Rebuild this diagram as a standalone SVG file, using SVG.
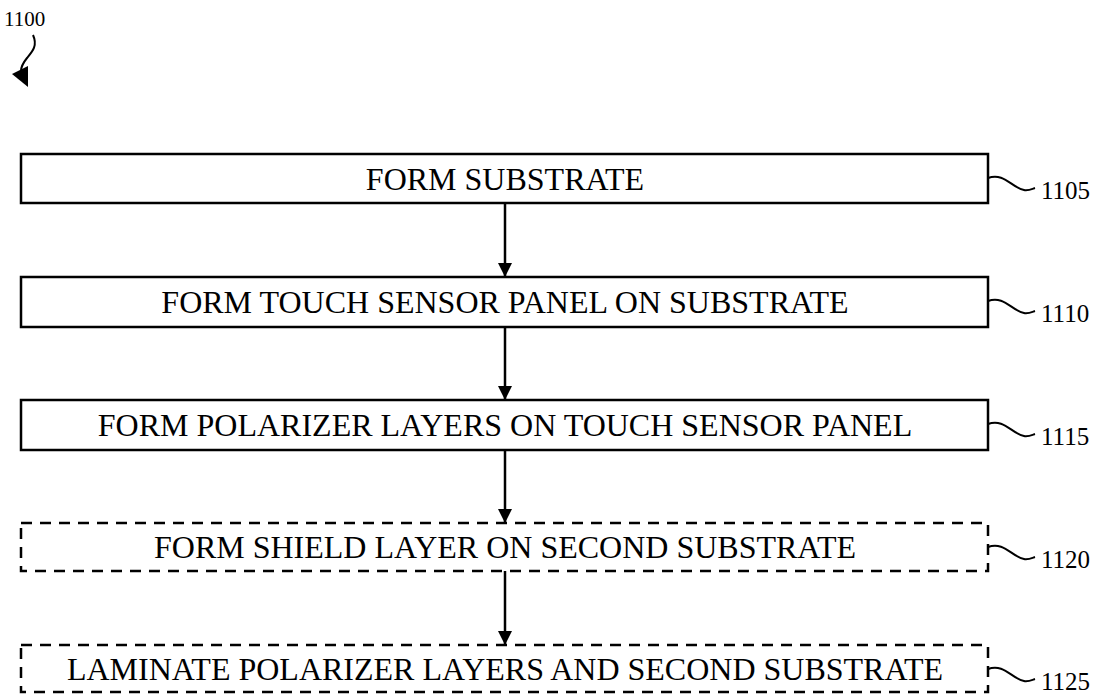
<svg xmlns="http://www.w3.org/2000/svg" width="1100" height="695" viewBox="0 0 1100 695">
<style>
.box{fill:#fff;stroke:#000;stroke-width:2.5}
.dash{stroke-dasharray:11 8}
.t{font-family:"Liberation Serif","Times New Roman",serif;font-size:32px;fill:#000;text-anchor:middle}
.ref{font-family:"Liberation Serif","Times New Roman",serif;font-size:25px;fill:#000}
.lead{fill:none;stroke:#000;stroke-width:2}
.conn{stroke:#000;stroke-width:2.5;fill:none}
</style>
<defs>
<marker id="ah2" markerWidth="14" markerHeight="14" refX="14" refY="7" orient="auto" markerUnits="userSpaceOnUse">
<path d="M0,0 L14,7 L0,14 Z" fill="#000"/>
</marker>
</defs>
<g id="fig-label">
<text class="ref" x="4" y="26" style="font-size:21px">1100</text>
<path class="lead" d="M33,35 C38,46 32,52 27,58 C23,63 21,66 21,71"/>
<polygon points="12,74 28,66 28,87" fill="#000"/>
</g>
<g id="connectors">
<line class="conn" x1="505" y1="203" x2="505" y2="277" marker-end="url(#ah2)"/>
<line class="conn" x1="505" y1="327" x2="505" y2="400" marker-end="url(#ah2)"/>
<line class="conn" x1="505" y1="450" x2="505" y2="523" marker-end="url(#ah2)"/>
<line class="conn" x1="505" y1="571" x2="505" y2="645" marker-end="url(#ah2)"/>
</g>
<g id="n1105">
<rect class="box" x="21" y="154" width="967" height="49"/>
<text class="t" x="505" y="190">FORM SUBSTRATE</text>
<path class="lead" d="M988,178 C1004,172 1012,188 1024,190 C1028,191 1032,189 1035,188"/>
<text class="ref" x="1041" y="199">1105</text>
</g>
<g id="n1110">
<rect class="box" x="21" y="277" width="967" height="50"/>
<text class="t" x="505" y="313">FORM TOUCH SENSOR PANEL ON SUBSTRATE</text>
<path class="lead" d="M988,301 C1004,295 1012,311 1024,313 C1028,314 1032,312 1035,311"/>
<text class="ref" x="1041" y="322">1110</text>
</g>
<g id="n1115">
<rect class="box" x="21" y="400" width="967" height="50"/>
<text class="t" x="505" y="436">FORM POLARIZER LAYERS ON TOUCH SENSOR PANEL</text>
<path class="lead" d="M988,424 C1004,418 1012,434 1024,436 C1028,437 1032,435 1035,434"/>
<text class="ref" x="1041" y="445">1115</text>
</g>
<g id="n1120">
<rect class="box dash" x="21" y="523" width="967" height="48"/>
<text class="t" x="505" y="558">FORM SHIELD LAYER ON SECOND SUBSTRATE</text>
<path class="lead" d="M988,547 C1004,541 1012,557 1024,559 C1028,560 1032,558 1035,557"/>
<text class="ref" x="1041" y="568">1120</text>
</g>
<g id="n1125">
<rect class="box dash" x="21" y="645" width="967" height="47"/>
<text class="t" x="505" y="680">LAMINATE POLARIZER LAYERS AND SECOND SUBSTRATE</text>
<path class="lead" d="M988,669 C1004,663 1012,679 1024,681 C1028,682 1032,680 1035,679"/>
<text class="ref" x="1041" y="690">1125</text>
</g>
</svg>
